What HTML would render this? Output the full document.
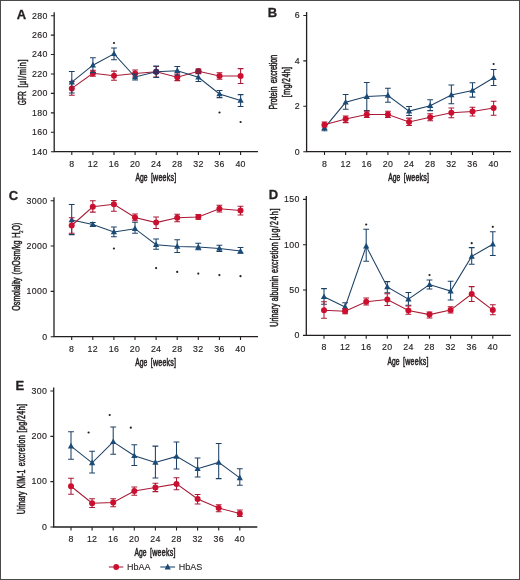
<!DOCTYPE html><html><head><meta charset="utf-8"><style>html,body{margin:0;padding:0;background:#fff}svg{display:block;will-change:transform}text{font-family:"Liberation Sans", sans-serif;fill:#231f20;stroke:#231f20;stroke-width:0.3px}.tl{font-size:8.8px;letter-spacing:0.3px;stroke-width:0.15px}.at{font-size:10px;stroke-width:0.5px}.pl{font-size:13px;font-weight:bold}.lg{font-size:9px;stroke-width:0.1px}.sb{font-size:6.2px}</style></head><body>
<svg width="520" height="580" viewBox="0 0 520 580">
<rect x="0.5" y="0.5" width="519" height="579" fill="#fff" stroke="#4a4a4a" stroke-width="1"/>
<path d="M54.2 12.2V151.7H258" fill="none" stroke="#231f20" stroke-width="1.3"/>
<path d="M50.9 151.7H54.2M50.9 132.27H54.2M50.9 112.84H54.2M50.9 93.41H54.2M50.9 73.99H54.2M50.9 54.56H54.2M50.9 35.13H54.2M50.9 15.7H54.2M71.8 151.7V155.1M92.9 151.7V155.1M114 151.7V155.1M135.1 151.7V155.1M156.2 151.7V155.1M177.3 151.7V155.1M198.4 151.7V155.1M219.5 151.7V155.1M240.6 151.7V155.1" stroke="#231f20" stroke-width="1.1"/>
<text x="47.6" y="154.5" text-anchor="end" class="tl">140</text>
<text x="47.6" y="135.07" text-anchor="end" class="tl">160</text>
<text x="47.6" y="115.64" text-anchor="end" class="tl">180</text>
<text x="47.6" y="96.21" text-anchor="end" class="tl">200</text>
<text x="47.6" y="76.79" text-anchor="end" class="tl">220</text>
<text x="47.6" y="57.36" text-anchor="end" class="tl">240</text>
<text x="47.6" y="37.93" text-anchor="end" class="tl">260</text>
<text x="47.6" y="18.5" text-anchor="end" class="tl">280</text>
<text x="71.8" y="166.7" text-anchor="middle" class="tl">8</text>
<text x="92.9" y="166.7" text-anchor="middle" class="tl">12</text>
<text x="114" y="166.7" text-anchor="middle" class="tl">16</text>
<text x="135.1" y="166.7" text-anchor="middle" class="tl">20</text>
<text x="156.2" y="166.7" text-anchor="middle" class="tl">24</text>
<text x="177.3" y="166.7" text-anchor="middle" class="tl">28</text>
<text x="198.4" y="166.7" text-anchor="middle" class="tl">32</text>
<text x="219.5" y="166.7" text-anchor="middle" class="tl">36</text>
<text x="240.6" y="166.7" text-anchor="middle" class="tl">40</text>
<text x="135.39" y="181.1" class="at" textLength="12.01" lengthAdjust="spacingAndGlyphs">Age</text>
<text transform="scale(0.71 1)" x="212.54" y="181.1" class="at" textLength="35.63" lengthAdjust="spacing">[weeks]</text>
<text transform="translate(25.9 0) rotate(-90)" x="-105.13" y="0" class="at" textLength="13.93" lengthAdjust="spacingAndGlyphs">GFR</text>
<text transform="translate(25.9 0) rotate(-90) scale(0.71 1)" x="-123.38" y="0" class="at" textLength="39.58" lengthAdjust="spacing">[µl/min]</text>
<text x="16.8" y="18.6" class="pl">A</text>
<path d="M71.8 81.6V95.2M68.9 81.6H74.7M68.9 95.2H74.7M92.9 70.2V76.2M90 70.2H95.8M90 76.2H95.8M114 71.1V80.3M111.1 71.1H116.9M111.1 80.3H116.9M135.1 70V77M132.2 70H138M132.2 77H138M156.2 66.5V77M153.3 66.5H159.1M153.3 77H159.1M177.3 74V80.6M174.4 74H180.2M174.4 80.6H180.2M198.4 69V73.6M195.5 69H201.3M195.5 73.6H201.3M219.5 72.8V79.2M216.6 72.8H222.4M216.6 79.2H222.4M240.6 68.6V83.4M237.7 68.6H243.5M237.7 83.4H243.5" fill="none" stroke="#a81a36" stroke-width="1.05"/>
<polyline points="71.8,88.4 92.9,73.2 114,75.7 135.1,73.5 156.2,71.8 177.3,77.3 198.4,71.3 219.5,76 240.6,76" fill="none" stroke="#a81a36" stroke-width="1.05"/>
<circle cx="71.8" cy="88.4" r="3.0" fill="#cc0f2f"/>
<circle cx="92.9" cy="73.2" r="3.0" fill="#cc0f2f"/>
<circle cx="114" cy="75.7" r="3.0" fill="#cc0f2f"/>
<circle cx="135.1" cy="73.5" r="3.0" fill="#cc0f2f"/>
<circle cx="156.2" cy="71.8" r="3.0" fill="#cc0f2f"/>
<circle cx="177.3" cy="77.3" r="3.0" fill="#cc0f2f"/>
<circle cx="198.4" cy="71.3" r="3.0" fill="#cc0f2f"/>
<circle cx="219.5" cy="76" r="3.0" fill="#cc0f2f"/>
<circle cx="240.6" cy="76" r="3.0" fill="#cc0f2f"/>
<path d="M71.8 71.5V93M68.9 71.5H74.7M68.9 93H74.7M92.9 57.8V72.6M90 57.8H95.8M90 72.6H95.8M114 47.9V59.7M111.1 47.9H116.9M111.1 59.7H116.9M135.1 74V80M132.2 74H138M132.2 80H138M156.2 65.9V77.5M153.3 65.9H159.1M153.3 77.5H159.1M177.3 66.5V75M174.4 66.5H180.2M174.4 75H180.2M198.4 73V81.5M195.5 73H201.3M195.5 81.5H201.3M219.5 90.4V97.6M216.6 90.4H222.4M216.6 97.6H222.4M240.6 94.6V106.4M237.7 94.6H243.5M237.7 106.4H243.5" fill="none" stroke="#1c4166" stroke-width="1.05"/>
<polyline points="71.8,82.2 92.9,65.2 114,53.8 135.1,77 156.2,71.7 177.3,70.7 198.4,77.3 219.5,94 240.6,100.5" fill="none" stroke="#1c4166" stroke-width="1.05"/>
<path d="M71.8 78.8L74.9 84.5H68.7Z" fill="#1a4a76"/>
<path d="M92.9 61.8L96 67.5H89.8Z" fill="#1a4a76"/>
<path d="M114 50.4L117.1 56.1H110.9Z" fill="#1a4a76"/>
<path d="M135.1 73.6L138.2 79.3H132Z" fill="#1a4a76"/>
<path d="M156.2 68.3L159.3 74H153.1Z" fill="#1a4a76"/>
<path d="M177.3 67.3L180.4 73H174.2Z" fill="#1a4a76"/>
<path d="M198.4 73.9L201.5 79.6H195.3Z" fill="#1a4a76"/>
<path d="M219.5 90.6L222.6 96.3H216.4Z" fill="#1a4a76"/>
<path d="M240.6 97.1L243.7 102.8H237.5Z" fill="#1a4a76"/>
<circle cx="156.2" cy="71.7" r="3" fill="#3b2d5e"/><circle cx="198.4" cy="71.3" r="3" fill="#8a1d3d"/>
<circle cx="114" cy="43" r="1.1" fill="#231f20"/>
<circle cx="219.5" cy="112.5" r="1.1" fill="#231f20"/>
<circle cx="240.6" cy="122" r="1.1" fill="#231f20"/>
<path d="M306.6 12V151.7H511" fill="none" stroke="#231f20" stroke-width="1.3"/>
<path d="M303.3 151.7H306.6M303.3 106.3H306.6M303.3 60.9H306.6M303.3 15.5H306.6M324.5 151.7V155.1M345.64 151.7V155.1M366.78 151.7V155.1M387.92 151.7V155.1M409.06 151.7V155.1M430.2 151.7V155.1M451.34 151.7V155.1M472.48 151.7V155.1M493.62 151.7V155.1" stroke="#231f20" stroke-width="1.1"/>
<text x="300" y="154.5" text-anchor="end" class="tl">0</text>
<text x="300" y="109.1" text-anchor="end" class="tl">2</text>
<text x="300" y="63.7" text-anchor="end" class="tl">4</text>
<text x="300" y="18.3" text-anchor="end" class="tl">6</text>
<text x="324.5" y="166.7" text-anchor="middle" class="tl">8</text>
<text x="345.64" y="166.7" text-anchor="middle" class="tl">12</text>
<text x="366.78" y="166.7" text-anchor="middle" class="tl">16</text>
<text x="387.92" y="166.7" text-anchor="middle" class="tl">20</text>
<text x="409.06" y="166.7" text-anchor="middle" class="tl">24</text>
<text x="430.2" y="166.7" text-anchor="middle" class="tl">28</text>
<text x="451.34" y="166.7" text-anchor="middle" class="tl">32</text>
<text x="472.48" y="166.7" text-anchor="middle" class="tl">36</text>
<text x="493.62" y="166.7" text-anchor="middle" class="tl">40</text>
<text x="388.25" y="181.1" class="at" textLength="12.01" lengthAdjust="spacingAndGlyphs">Age</text>
<text transform="scale(0.71 1)" x="568.68" y="181.1" class="at" textLength="35.63" lengthAdjust="spacing">[weeks]</text>
<text transform="translate(276.5 0) rotate(-90) scale(0.71 1)" x="-154.37" y="0" class="at" textLength="32.39" lengthAdjust="spacing">Protein</text>
<text transform="translate(276.5 0) rotate(-90) scale(0.71 1)" x="-117.32" y="0" class="at" textLength="40.14" lengthAdjust="spacing">excretion</text>
<text transform="translate(290 0) rotate(-90) scale(0.71 1)" x="-136.9" y="0" class="at" textLength="42.54" lengthAdjust="spacing">[mg/24h]</text>
<text x="267.8" y="16.85" class="pl">B</text>
<path d="M324.5 125V130.7M321.6 125H327.4M321.6 130.7H327.4M345.64 94.4V109.3M342.74 94.4H348.54M342.74 109.3H348.54M366.78 82.4V110.5M363.88 82.4H369.68M363.88 110.5H369.68M387.92 88.3V102.2M385.02 88.3H390.82M385.02 102.2H390.82M409.06 106.5V115.4M406.16 106.5H411.96M406.16 115.4H411.96M430.2 99.8V110.6M427.3 99.8H433.1M427.3 110.6H433.1M451.34 85V103.8M448.44 85H454.24M448.44 103.8H454.24M472.48 82.8V97.1M469.58 82.8H475.38M469.58 97.1H475.38M493.62 69.4V85.5M490.72 69.4H496.52M490.72 85.5H496.52" fill="none" stroke="#1c4166" stroke-width="1.05"/>
<polyline points="324.5,127.8 345.64,102.3 366.78,96.6 387.92,95.5 409.06,111.1 430.2,105.7 451.34,95 472.48,90.4 493.62,77.7" fill="none" stroke="#1c4166" stroke-width="1.05"/>
<path d="M324.5 124.4L327.6 130.1H321.4Z" fill="#1a4a76"/>
<path d="M345.64 98.9L348.74 104.6H342.54Z" fill="#1a4a76"/>
<path d="M366.78 93.2L369.88 98.9H363.68Z" fill="#1a4a76"/>
<path d="M387.92 92.1L391.02 97.8H384.82Z" fill="#1a4a76"/>
<path d="M409.06 107.7L412.16 113.4H405.96Z" fill="#1a4a76"/>
<path d="M430.2 102.3L433.3 108H427.1Z" fill="#1a4a76"/>
<path d="M451.34 91.6L454.44 97.3H448.24Z" fill="#1a4a76"/>
<path d="M472.48 87L475.58 92.7H469.38Z" fill="#1a4a76"/>
<path d="M493.62 74.3L496.72 80H490.52Z" fill="#1a4a76"/>
<path d="M324.5 122V126.9M321.6 122H327.4M321.6 126.9H327.4M345.64 116V122.6M342.74 116H348.54M342.74 122.6H348.54M366.78 111.3V117.4M363.88 111.3H369.68M363.88 117.4H369.68M387.92 111.3V117.4M385.02 111.3H390.82M385.02 117.4H390.82M409.06 118.1V125.4M406.16 118.1H411.96M406.16 125.4H411.96M430.2 113.8V120.8M427.3 113.8H433.1M427.3 120.8H433.1M451.34 107.9V117.8M448.44 107.9H454.24M448.44 117.8H454.24M472.48 107.3V116M469.58 107.3H475.38M469.58 116H475.38M493.62 101.2V115.2M490.72 101.2H496.52M490.72 115.2H496.52" fill="none" stroke="#a81a36" stroke-width="1.05"/>
<polyline points="324.5,124.7 345.64,119.1 366.78,114.4 387.92,114.4 409.06,121.9 430.2,117.3 451.34,112.7 472.48,111.4 493.62,107.9" fill="none" stroke="#a81a36" stroke-width="1.05"/>
<circle cx="324.5" cy="124.7" r="3.0" fill="#cc0f2f"/>
<circle cx="345.64" cy="119.1" r="3.0" fill="#cc0f2f"/>
<circle cx="366.78" cy="114.4" r="3.0" fill="#cc0f2f"/>
<circle cx="387.92" cy="114.4" r="3.0" fill="#cc0f2f"/>
<circle cx="409.06" cy="121.9" r="3.0" fill="#cc0f2f"/>
<circle cx="430.2" cy="117.3" r="3.0" fill="#cc0f2f"/>
<circle cx="451.34" cy="112.7" r="3.0" fill="#cc0f2f"/>
<circle cx="472.48" cy="111.4" r="3.0" fill="#cc0f2f"/>
<circle cx="493.62" cy="107.9" r="3.0" fill="#cc0f2f"/>
<circle cx="493.62" cy="64" r="1.1" fill="#231f20"/>
<path d="M54 197.2V336.7H258" fill="none" stroke="#231f20" stroke-width="1.3"/>
<path d="M50.7 336.7H54M50.7 291.37H54M50.7 246.03H54M50.7 200.7H54M71.7 336.7V340.1M92.8 336.7V340.1M113.9 336.7V340.1M135 336.7V340.1M156.1 336.7V340.1M177.2 336.7V340.1M198.3 336.7V340.1M219.4 336.7V340.1M240.5 336.7V340.1" stroke="#231f20" stroke-width="1.1"/>
<text x="47.4" y="339.5" text-anchor="end" class="tl">0</text>
<text x="47.4" y="294.17" text-anchor="end" class="tl">1000</text>
<text x="47.4" y="248.83" text-anchor="end" class="tl">2000</text>
<text x="47.4" y="203.5" text-anchor="end" class="tl">3000</text>
<text x="71.7" y="351.7" text-anchor="middle" class="tl">8</text>
<text x="92.8" y="351.7" text-anchor="middle" class="tl">12</text>
<text x="113.9" y="351.7" text-anchor="middle" class="tl">16</text>
<text x="135" y="351.7" text-anchor="middle" class="tl">20</text>
<text x="156.1" y="351.7" text-anchor="middle" class="tl">24</text>
<text x="177.2" y="351.7" text-anchor="middle" class="tl">28</text>
<text x="198.3" y="351.7" text-anchor="middle" class="tl">32</text>
<text x="219.4" y="351.7" text-anchor="middle" class="tl">36</text>
<text x="240.5" y="351.7" text-anchor="middle" class="tl">40</text>
<text x="135.29" y="366.1" class="at" textLength="12.01" lengthAdjust="spacingAndGlyphs">Age</text>
<text transform="scale(0.71 1)" x="212.39" y="366.1" class="at" textLength="35.63" lengthAdjust="spacing">[weeks]</text>
<text transform="translate(19.5 0) rotate(-90) scale(0.71 1)" x="-437.61" y="0" class="at" textLength="46.9" lengthAdjust="spacing">Osmolality</text>
<text transform="translate(19.5 0) rotate(-90) scale(0.71 1)" x="-386.48" y="0" class="at" textLength="47.75" lengthAdjust="spacing">(mOsm/kg</text>
<text transform="translate(19.5 0) rotate(-90)" x="-238.05" y="0" class="at" textLength="5.68" lengthAdjust="spacingAndGlyphs">H</text>
<text transform="translate(19.5 0) rotate(-90)" x="-230.42" y="0" class="at" textLength="7.65" lengthAdjust="spacingAndGlyphs">O)</text>
<text transform="translate(23.3 0) rotate(-90)" x="-232.7" y="0" class="sb" textLength="2.2" lengthAdjust="spacingAndGlyphs">2</text>
<text x="8.8" y="200.3" class="pl">C</text>
<path d="M71.7 204.4V234.6M68.8 204.4H74.6M68.8 234.6H74.6M92.8 222.5V226.5M89.9 222.5H95.7M89.9 226.5H95.7M113.9 226.9V236.7M111 226.9H116.8M111 236.7H116.8M135 222.2V233.2M132.1 222.2H137.9M132.1 233.2H137.9M156.1 239V249.2M153.2 239H159M153.2 249.2H159M177.2 239.8V252.5M174.3 239.8H180.1M174.3 252.5H180.1M198.3 243.3V249.8M195.4 243.3H201.2M195.4 249.8H201.2M219.4 245.2V251.4M216.5 245.2H222.3M216.5 251.4H222.3M240.5 247.4V253.3M237.6 247.4H243.4M237.6 253.3H243.4" fill="none" stroke="#1c4166" stroke-width="1.05"/>
<polyline points="71.7,220 92.8,224.5 113.9,232 135,228.7 156.1,244.7 177.2,246.5 198.3,247.1 219.4,248.4 240.5,251.1" fill="none" stroke="#1c4166" stroke-width="1.05"/>
<path d="M71.7 216.6L74.8 222.3H68.6Z" fill="#1a4a76"/>
<path d="M92.8 221.1L95.9 226.8H89.7Z" fill="#1a4a76"/>
<path d="M113.9 228.6L117 234.3H110.8Z" fill="#1a4a76"/>
<path d="M135 225.3L138.1 231H131.9Z" fill="#1a4a76"/>
<path d="M156.1 241.3L159.2 247H153Z" fill="#1a4a76"/>
<path d="M177.2 243.1L180.3 248.8H174.1Z" fill="#1a4a76"/>
<path d="M198.3 243.7L201.4 249.4H195.2Z" fill="#1a4a76"/>
<path d="M219.4 245L222.5 250.7H216.3Z" fill="#1a4a76"/>
<path d="M240.5 247.7L243.6 253.4H237.4Z" fill="#1a4a76"/>
<path d="M71.7 217.7V233.3M68.8 217.7H74.6M68.8 233.3H74.6M92.8 200.7V212.1M89.9 200.7H95.7M89.9 212.1H95.7M113.9 200.4V211.3M111 200.4H116.8M111 211.3H116.8M135 214V220.8M132.1 214H137.9M132.1 220.8H137.9M156.1 216.9V228.5M153.2 216.9H159M153.2 228.5H159M177.2 214.2V221.8M174.3 214.2H180.1M174.3 221.8H180.1M198.3 214.5V219.3M195.4 214.5H201.2M195.4 219.3H201.2M219.4 205.2V212M216.5 205.2H222.3M216.5 212H222.3M240.5 206.3V214.9M237.6 206.3H243.4M237.6 214.9H243.4" fill="none" stroke="#a81a36" stroke-width="1.05"/>
<polyline points="71.7,225.5 92.8,206.8 113.9,204.2 135,217.4 156.1,222.6 177.2,217.8 198.3,216.9 219.4,208.7 240.5,210.6" fill="none" stroke="#a81a36" stroke-width="1.05"/>
<circle cx="71.7" cy="225.5" r="3.0" fill="#cc0f2f"/>
<circle cx="92.8" cy="206.8" r="3.0" fill="#cc0f2f"/>
<circle cx="113.9" cy="204.2" r="3.0" fill="#cc0f2f"/>
<circle cx="135" cy="217.4" r="3.0" fill="#cc0f2f"/>
<circle cx="156.1" cy="222.6" r="3.0" fill="#cc0f2f"/>
<circle cx="177.2" cy="217.8" r="3.0" fill="#cc0f2f"/>
<circle cx="198.3" cy="216.9" r="3.0" fill="#cc0f2f"/>
<circle cx="219.4" cy="208.7" r="3.0" fill="#cc0f2f"/>
<circle cx="240.5" cy="210.6" r="3.0" fill="#cc0f2f"/>
<circle cx="113.9" cy="248.5" r="1.1" fill="#231f20"/>
<circle cx="156.1" cy="268.1" r="1.1" fill="#231f20"/>
<circle cx="177.2" cy="271.9" r="1.1" fill="#231f20"/>
<circle cx="198.3" cy="273.6" r="1.1" fill="#231f20"/>
<circle cx="219.4" cy="275.1" r="1.1" fill="#231f20"/>
<circle cx="240.5" cy="276.2" r="1.1" fill="#231f20"/>
<path d="M306.3 195.9V335.4H510.8" fill="none" stroke="#231f20" stroke-width="1.3"/>
<path d="M303 335.4H306.3M303 290.07H306.3M303 244.73H306.3M303 199.4H306.3M324 335.4V338.8M345.1 335.4V338.8M366.2 335.4V338.8M387.3 335.4V338.8M408.4 335.4V338.8M429.5 335.4V338.8M450.6 335.4V338.8M471.7 335.4V338.8M492.8 335.4V338.8" stroke="#231f20" stroke-width="1.1"/>
<text x="299.7" y="338.2" text-anchor="end" class="tl">0</text>
<text x="299.7" y="292.87" text-anchor="end" class="tl">50</text>
<text x="299.7" y="247.53" text-anchor="end" class="tl">100</text>
<text x="299.7" y="202.2" text-anchor="end" class="tl">150</text>
<text x="324" y="350.4" text-anchor="middle" class="tl">8</text>
<text x="345.1" y="350.4" text-anchor="middle" class="tl">12</text>
<text x="366.2" y="350.4" text-anchor="middle" class="tl">16</text>
<text x="387.3" y="350.4" text-anchor="middle" class="tl">20</text>
<text x="408.4" y="350.4" text-anchor="middle" class="tl">24</text>
<text x="429.5" y="350.4" text-anchor="middle" class="tl">28</text>
<text x="450.6" y="350.4" text-anchor="middle" class="tl">32</text>
<text x="471.7" y="350.4" text-anchor="middle" class="tl">36</text>
<text x="492.8" y="350.4" text-anchor="middle" class="tl">40</text>
<text x="387.59" y="364.8" class="at" textLength="12.01" lengthAdjust="spacingAndGlyphs">Age</text>
<text transform="scale(0.71 1)" x="567.75" y="364.8" class="at" textLength="35.63" lengthAdjust="spacing">[weeks]</text>
<text transform="translate(277.9 0) rotate(-90) scale(0.71 1)" x="-460.28" y="0" class="at" textLength="32.82" lengthAdjust="spacing">Urinary</text>
<text transform="translate(277.9 0) rotate(-90) scale(0.71 1)" x="-424.23" y="0" class="at" textLength="35.92" lengthAdjust="spacing">albumin</text>
<text transform="translate(277.9 0) rotate(-90) scale(0.71 1)" x="-384.37" y="0" class="at" textLength="42.96" lengthAdjust="spacing">excretion</text>
<text transform="translate(277.9 0) rotate(-90) scale(0.71 1)" x="-338.45" y="0" class="at" textLength="44.65" lengthAdjust="spacing">[µg/24h]</text>
<text x="268.8" y="198.9" class="pl">D</text>
<path d="M324 288.6V304.2M321.1 288.6H326.9M321.1 304.2H326.9M345.1 302.8V310.2M342.2 302.8H348M342.2 310.2H348M366.2 229.25V261.25M363.3 229.25H369.1M363.3 261.25H369.1M387.3 281.6V292.8M384.4 281.6H390.2M384.4 292.8H390.2M408.4 292.4V305.2M405.5 292.4H411.3M405.5 305.2H411.3M429.5 279.9V288.9M426.6 279.9H432.4M426.6 288.9H432.4M450.6 281.2V300M447.7 281.2H453.5M447.7 300H453.5M471.7 247.6V264.2M468.8 247.6H474.6M468.8 264.2H474.6M492.8 231.7V255.5M489.9 231.7H495.7M489.9 255.5H495.7" fill="none" stroke="#1c4166" stroke-width="1.05"/>
<polyline points="324,296.8 345.1,307 366.2,246.25 387.3,286.9 408.4,299.2 429.5,284.6 450.6,291.1 471.7,256.4 492.8,244.3" fill="none" stroke="#1c4166" stroke-width="1.05"/>
<path d="M324 293.4L327.1 299.1H320.9Z" fill="#1a4a76"/>
<path d="M345.1 303.6L348.2 309.3H342Z" fill="#1a4a76"/>
<path d="M366.2 242.85L369.3 248.55H363.1Z" fill="#1a4a76"/>
<path d="M387.3 283.5L390.4 289.2H384.2Z" fill="#1a4a76"/>
<path d="M408.4 295.8L411.5 301.5H405.3Z" fill="#1a4a76"/>
<path d="M429.5 281.2L432.6 286.9H426.4Z" fill="#1a4a76"/>
<path d="M450.6 287.7L453.7 293.4H447.5Z" fill="#1a4a76"/>
<path d="M471.7 253L474.8 258.7H468.6Z" fill="#1a4a76"/>
<path d="M492.8 240.9L495.9 246.6H489.7Z" fill="#1a4a76"/>
<path d="M324 301.7V318.2M321.1 301.7H326.9M321.1 318.2H326.9M345.1 308.8V313.8M342.2 308.8H348M342.2 313.8H348M366.2 297.9V304.9M363.3 297.9H369.1M363.3 304.9H369.1M387.3 293.7V305.5M384.4 293.7H390.2M384.4 305.5H390.2M408.4 305.9V314.2M405.5 305.9H411.3M405.5 314.2H411.3M429.5 311.9V318M426.6 311.9H432.4M426.6 318H432.4M450.6 306.8V313M447.7 306.8H453.5M447.7 313H453.5M471.7 286.6V301.4M468.8 286.6H474.6M468.8 301.4H474.6M492.8 304.8V314.8M489.9 304.8H495.7M489.9 314.8H495.7" fill="none" stroke="#a81a36" stroke-width="1.05"/>
<polyline points="324,310.2 345.1,311.3 366.2,301.7 387.3,299.6 408.4,310.4 429.5,314.6 450.6,310.1 471.7,294 492.8,310.1" fill="none" stroke="#a81a36" stroke-width="1.05"/>
<circle cx="324" cy="310.2" r="3.0" fill="#cc0f2f"/>
<circle cx="345.1" cy="311.3" r="3.0" fill="#cc0f2f"/>
<circle cx="366.2" cy="301.7" r="3.0" fill="#cc0f2f"/>
<circle cx="387.3" cy="299.6" r="3.0" fill="#cc0f2f"/>
<circle cx="408.4" cy="310.4" r="3.0" fill="#cc0f2f"/>
<circle cx="429.5" cy="314.6" r="3.0" fill="#cc0f2f"/>
<circle cx="450.6" cy="310.1" r="3.0" fill="#cc0f2f"/>
<circle cx="471.7" cy="294" r="3.0" fill="#cc0f2f"/>
<circle cx="492.8" cy="310.1" r="3.0" fill="#cc0f2f"/>
<circle cx="366.2" cy="224.5" r="1.1" fill="#231f20"/>
<circle cx="429.5" cy="275" r="1.1" fill="#231f20"/>
<circle cx="471.7" cy="243.2" r="1.1" fill="#231f20"/>
<circle cx="492.8" cy="226.8" r="1.1" fill="#231f20"/>
<path d="M53.7 387.5V527H257.3" fill="none" stroke="#231f20" stroke-width="1.3"/>
<path d="M50.4 527H53.7M50.4 481.67H53.7M50.4 436.33H53.7M50.4 391H53.7M71 527V530.4M92.1 527V530.4M113.2 527V530.4M134.3 527V530.4M155.4 527V530.4M176.5 527V530.4M197.6 527V530.4M218.7 527V530.4M239.8 527V530.4" stroke="#231f20" stroke-width="1.1"/>
<text x="47.1" y="529.8" text-anchor="end" class="tl">0</text>
<text x="47.1" y="484.47" text-anchor="end" class="tl">100</text>
<text x="47.1" y="439.13" text-anchor="end" class="tl">200</text>
<text x="47.1" y="393.8" text-anchor="end" class="tl">300</text>
<text x="71" y="542" text-anchor="middle" class="tl">8</text>
<text x="92.1" y="542" text-anchor="middle" class="tl">12</text>
<text x="113.2" y="542" text-anchor="middle" class="tl">16</text>
<text x="134.3" y="542" text-anchor="middle" class="tl">20</text>
<text x="155.4" y="542" text-anchor="middle" class="tl">24</text>
<text x="176.5" y="542" text-anchor="middle" class="tl">28</text>
<text x="197.6" y="542" text-anchor="middle" class="tl">32</text>
<text x="218.7" y="542" text-anchor="middle" class="tl">36</text>
<text x="239.8" y="542" text-anchor="middle" class="tl">40</text>
<text x="134.59" y="556.4" class="at" textLength="12.01" lengthAdjust="spacingAndGlyphs">Age</text>
<text transform="scale(0.71 1)" x="211.41" y="556.4" class="at" textLength="35.63" lengthAdjust="spacing">[weeks]</text>
<text transform="translate(24.6 0) rotate(-90) scale(0.71 1)" x="-724.23" y="0" class="at" textLength="32.11" lengthAdjust="spacing">Urinary</text>
<text transform="translate(24.6 0) rotate(-90) scale(0.71 1)" x="-688.17" y="0" class="at" textLength="26.9" lengthAdjust="spacing">KIM-1</text>
<text transform="translate(24.6 0) rotate(-90) scale(0.71 1)" x="-656.62" y="0" class="at" textLength="43.38" lengthAdjust="spacing">excretion</text>
<text transform="translate(24.6 0) rotate(-90) scale(0.71 1)" x="-609.01" y="0" class="at" textLength="40" lengthAdjust="spacing">[pg/24h]</text>
<text x="15.4" y="390.1" class="pl">E</text>
<path d="M71 431.7V459.3M68.1 431.7H73.9M68.1 459.3H73.9M92.1 451.25V473M89.2 451.25H95M89.2 473H95M113.2 427V454.25M110.3 427H116.1M110.3 454.25H116.1M134.3 444.8V465.4M131.4 444.8H137.2M131.4 465.4H137.2M155.4 446.1V478M152.5 446.1H158.3M152.5 478H158.3M176.5 442V469M173.6 442H179.4M173.6 469H179.4M197.6 458V477M194.7 458H200.5M194.7 477H200.5M218.7 443.4V478.6M215.8 443.4H221.6M215.8 478.6H221.6M239.8 468.7V485.3M236.9 468.7H242.7M236.9 485.3H242.7" fill="none" stroke="#1c4166" stroke-width="1.05"/>
<polyline points="71,446.1 92.1,462.9 113.2,441.8 134.3,455.8 155.4,462.4 176.5,456.4 197.6,468.8 218.7,462.4 239.8,477.9" fill="none" stroke="#1c4166" stroke-width="1.05"/>
<path d="M71 442.7L74.1 448.4H67.9Z" fill="#1a4a76"/>
<path d="M92.1 459.5L95.2 465.2H89Z" fill="#1a4a76"/>
<path d="M113.2 438.4L116.3 444.1H110.1Z" fill="#1a4a76"/>
<path d="M134.3 452.4L137.4 458.1H131.2Z" fill="#1a4a76"/>
<path d="M155.4 459L158.5 464.7H152.3Z" fill="#1a4a76"/>
<path d="M176.5 453L179.6 458.7H173.4Z" fill="#1a4a76"/>
<path d="M197.6 465.4L200.7 471.1H194.5Z" fill="#1a4a76"/>
<path d="M218.7 459L221.8 464.7H215.6Z" fill="#1a4a76"/>
<path d="M239.8 474.5L242.9 480.2H236.7Z" fill="#1a4a76"/>
<path d="M71 478.25V494.25M68.1 478.25H73.9M68.1 494.25H73.9M92.1 498.75V507.5M89.2 498.75H95M89.2 507.5H95M113.2 498.75V506.75M110.3 498.75H116.1M110.3 506.75H116.1M134.3 486.9V495.2M131.4 486.9H137.2M131.4 495.2H137.2M155.4 483.3V491.6M152.5 483.3H158.3M152.5 491.6H158.3M176.5 477.8V489.7M173.6 477.8H179.4M173.6 489.7H179.4M197.6 494.4V504M194.7 494.4H200.5M194.7 504H200.5M218.7 504.8V511.7M215.8 504.8H221.6M215.8 511.7H221.6M239.8 510V516.4M236.9 510H242.7M236.9 516.4H242.7" fill="none" stroke="#a81a36" stroke-width="1.05"/>
<polyline points="71,486.25 92.1,503.25 113.2,502.5 134.3,491 155.4,487.5 176.5,483.9 197.6,499 218.7,508.1 239.8,513.6" fill="none" stroke="#a81a36" stroke-width="1.05"/>
<circle cx="71" cy="486.25" r="3.0" fill="#cc0f2f"/>
<circle cx="92.1" cy="503.25" r="3.0" fill="#cc0f2f"/>
<circle cx="113.2" cy="502.5" r="3.0" fill="#cc0f2f"/>
<circle cx="134.3" cy="491" r="3.0" fill="#cc0f2f"/>
<circle cx="155.4" cy="487.5" r="3.0" fill="#cc0f2f"/>
<circle cx="176.5" cy="483.9" r="3.0" fill="#cc0f2f"/>
<circle cx="197.6" cy="499" r="3.0" fill="#cc0f2f"/>
<circle cx="218.7" cy="508.1" r="3.0" fill="#cc0f2f"/>
<circle cx="239.8" cy="513.6" r="3.0" fill="#cc0f2f"/>
<circle cx="88.6" cy="432.5" r="1.1" fill="#231f20"/>
<circle cx="109.7" cy="415" r="1.1" fill="#231f20"/>
<circle cx="130.8" cy="427.7" r="1.1" fill="#231f20"/>
<path d="M108.9 567H123.3" stroke="#a81a36" stroke-width="1.05"/><circle cx="116.2" cy="567" r="2.9" fill="#cc0f2f"/>
<text x="127.1" y="570.4" class="lg">HbAA</text>
<path d="M160.3 567H175.1" stroke="#1c4166" stroke-width="1.05"/><path d="M167.7 563.6L170.8 569.4H164.6Z" fill="#1a4a76"/>
<text x="178.7" y="570.4" class="lg">HbAS</text>
</svg></body></html>
